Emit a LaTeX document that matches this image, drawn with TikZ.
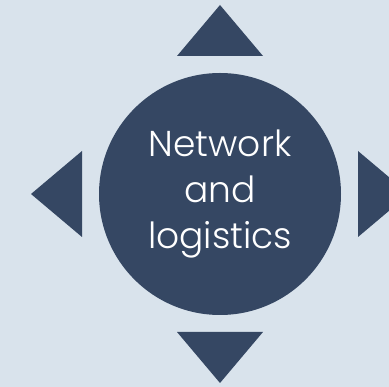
\documentclass[tikz,border=0pt]{standalone}
\usepackage{fontspec}
\setmainfont{Poppins Light}
\definecolor{navy}{HTML}{354763}
\definecolor{paleblue}{HTML}{D9E3EC}
\begin{document}
\begin{tikzpicture}[x=1pt,y=-1pt,
  hub/.style={circle, fill=navy, text=white, minimum size=242pt, inner sep=0pt, align=center,
    font=\fontsize{36}{46}\selectfont},
  pointer/.style={fill=navy}]
% Background and frame of the picture
\clip (0,0) rectangle (389,387);
\fill[paleblue] (0,0) rectangle (389,387);
% The circle in the middle
\node[hub] (hub) at (220,194) {Network\\and\\logistics};
% Four triangles round the circle, one for each direction
\begin{scope}[shift={(hub.center)}]
\foreach \a in {0,90,180,270}
{
  \fill[pointer, rotate=\a] (138,-43) -- (189,0) -- (138,43) -- cycle;
}
\end{scope}
\end{tikzpicture}
\end{document}
